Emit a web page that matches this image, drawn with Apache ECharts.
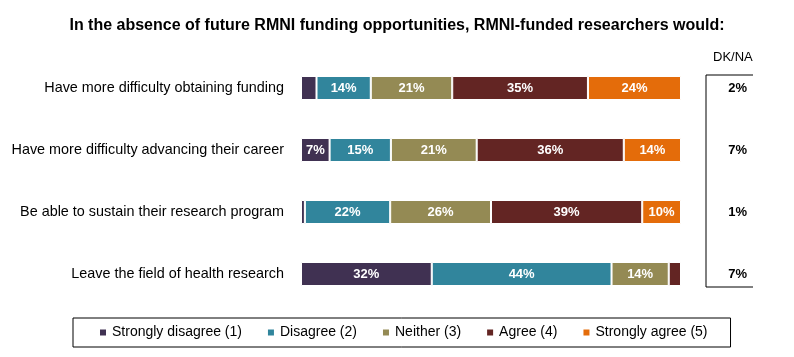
<!DOCTYPE html>
<html><head><meta charset="utf-8">
<script src="https://cdn.jsdelivr.net/npm/echarts@6/dist/echarts.min.js"></script>
<style>html,body{margin:0;padding:0;background:#fff}#c{width:794px;height:357px}</style>
</head><body><div id="c"></div>
<script>
const categories = [
  'Have more difficulty obtaining funding',
  'Have more difficulty advancing their career',
  'Be able to sustain their research program',
  'Leave the field of health research'
];
const seriesNames = ['Strongly disagree (1)','Disagree (2)','Neither (3)','Agree (4)','Strongly agree (5)'];
const stronglyDisagree = [4, 7, 1, 32];
const disagree        = [14, 15, 22, 44];
const neither         = [21, 21, 26, 14];
const agree           = [35, 36, 39, 3];
const stronglyAgree   = [24, 14, 10, 0];
const dkNa            = [2, 7, 1, 7];
const colors = ['#403152','#31859C','#948A54','#632523','#E46C0A'];

const raw = [stronglyDisagree, disagree, neither, agree, stronglyAgree];
const rowSums = categories.map((_, i) => raw.reduce((s, arr) => s + arr[i], 0));
const FONT = '"Liberation Sans",Arial,sans-serif';

const chart = echarts.init(document.getElementById('c'), null, {renderer:'canvas'});
const series = raw.map((arr, k) => ({
  name: seriesNames[k], type: 'bar', stack: 'all', barWidth: 24,
  xAxisIndex: 0, yAxisIndex: 0,
  itemStyle: {color: colors[k], borderColor: '#fff', borderWidth: 1},
  label: {
    show: true, position: 'inside', color: '#fff', fontWeight: 'bold',
    fontFamily: FONT, fontSize: 13,
    formatter: p => arr[p.dataIndex] >= 5 ? arr[p.dataIndex] + '%' : ''
  },
  data: arr.map((v, i) => v / rowSums[i] * 100)
}));

chart.setOption({
  animation: false,
  title: {
    text: 'In the absence of future RMNI funding opportunities, RMNI-funded researchers would:',
    left: 'center', top: 13,
    textStyle: {fontFamily: FONT, fontWeight: 'bold', fontSize: 16, color: '#000'}
  },
  legend: {
    data: seriesNames, left: 73, top: 318,
    icon: 'rect', itemWidth: 8, itemHeight: 8, itemGap: 24,
    padding: [6, 23, 6, 25],
    borderColor: '#000', borderWidth: 1,
    textStyle: {fontFamily: FONT, fontSize: 14, color: '#000', lineHeight: 17}
  },
  grid: [
    {left: 301, right: 113, top: 57, bottom: 52, outerBoundsMode: 'none'},
    {left: 706, right: 47, top: 57, bottom: 52, outerBoundsMode: 'none'}
  ],
  xAxis: [
    {gridIndex: 0, type: 'value', min: 0, max: 100, show: false},
    {gridIndex: 1, type: 'value', min: 0, max: 1, show: false}
  ],
  yAxis: [
    {gridIndex: 0, type: 'category', inverse: true, data: categories,
     axisLine: {show: false}, axisTick: {show: false},
     axisLabel: {margin: 17, color: '#000', fontFamily: FONT, fontSize: 14.4}},
    {gridIndex: 1, type: 'category', inverse: true, position: 'right',
     data: dkNa.map(v => v + '%'),
     axisLine: {show: false}, axisTick: {show: false},
     axisLabel: {inside: true, margin: 0, color: '#000', fontWeight: 'bold', fontFamily: FONT, fontSize: 13}}
  ],
  graphic: [
    {type: 'polyline', shape: {points: [[753,75],[706,75],[706,287],[753,287]]},
     style: {stroke: '#000', lineWidth: 1, fill: null}},
    {type: 'text', left: 713, top: 51,
     style: {text: 'DK/NA', font: '13px ' + FONT, fill: '#000'}}
  ],
  series: series
});
</script></body></html>
